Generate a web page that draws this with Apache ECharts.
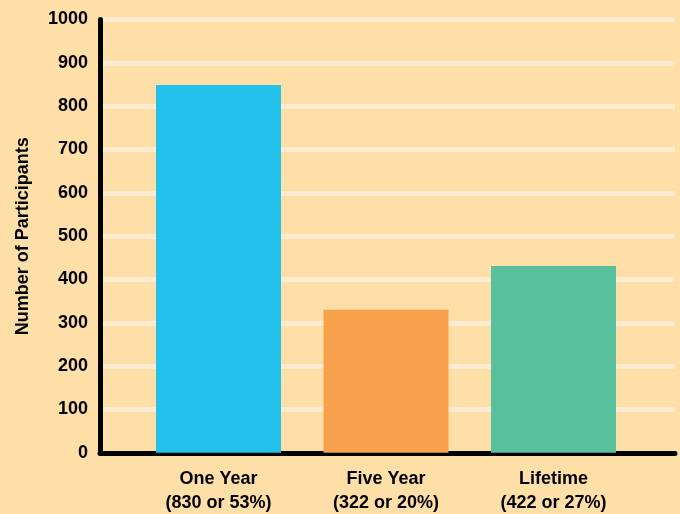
<!DOCTYPE html>
<html><head><meta charset="utf-8">
<script src="https://cdn.jsdelivr.net/npm/echarts@6/dist/echarts.min.js"></script>
<style>html,body{margin:0;padding:0;background:#FFDFA8;}#c{width:680px;height:514px;}</style>
</head><body><div id="c"></div>
<script>
const categories = ['One Year', 'Five Year', 'Lifetime'];
const categoryNotes = ['(830 or 53%)', '(322 or 20%)', '(422 or 27%)'];
const values = [849, 330, 431];
const barColors = ['#22C1E9', '#F8A04B', '#58C09C'];
const yTicks = [0, 100, 200, 300, 400, 500, 600, 700, 800, 900, 1000];

const chart = echarts.init(document.getElementById('c'));
const font = '"Liberation Sans", Arial, sans-serif';
chart.setOption({
  backgroundColor: '#FFDFA8',
  animation: false,
  grid: { left: 100, right: 5, top: 19.5, bottom: 61.2 },
  xAxis: {
    type: 'value', min: -0.7075, max: 2.7255,
    splitLine: { show: false },
    axisTick: { show: false },
    axisLine: { show: true, onZero: false, lineStyle: { color: '#000', width: 5 } },
    axisLabel: {
      customValues: [0, 1, 2],
      formatter: v => '{a|' + categories[Math.round(v)] + '}\n{a|' + categoryNotes[Math.round(v)] + '}',
      margin: 14,
      rich: { a: { fontFamily: font, fontWeight: 'bold', fontSize: 18, color: '#000', lineHeight: 24 } }
    }
  },
  yAxis: {
    type: 'value', min: 0, max: 1000, interval: 100,
    name: 'Number of Participants', nameLocation: 'middle', nameGap: 68,
    nameTextStyle: { fontFamily: font, fontWeight: 'bold', fontSize: 18, color: '#000' },
    axisLine: { show: true, onZero: false, lineStyle: { color: '#000', width: 5 } },
    axisTick: { show: false },
    axisLabel: { fontFamily: font, fontWeight: 'bold', fontSize: 18, color: '#000', margin: 12,
      formatter: v => yTicks.includes(v) ? String(v) : '' },
    splitLine: { show: true, lineStyle: { color: '#FFEBCF', width: 5 } }
  },
  series: [{
    type: 'bar', barWidth: 125,
    data: values.map((v, i) => ({ value: [i, v], itemStyle: { color: barColors[i] } }))
  }]
});
</script></body></html>
